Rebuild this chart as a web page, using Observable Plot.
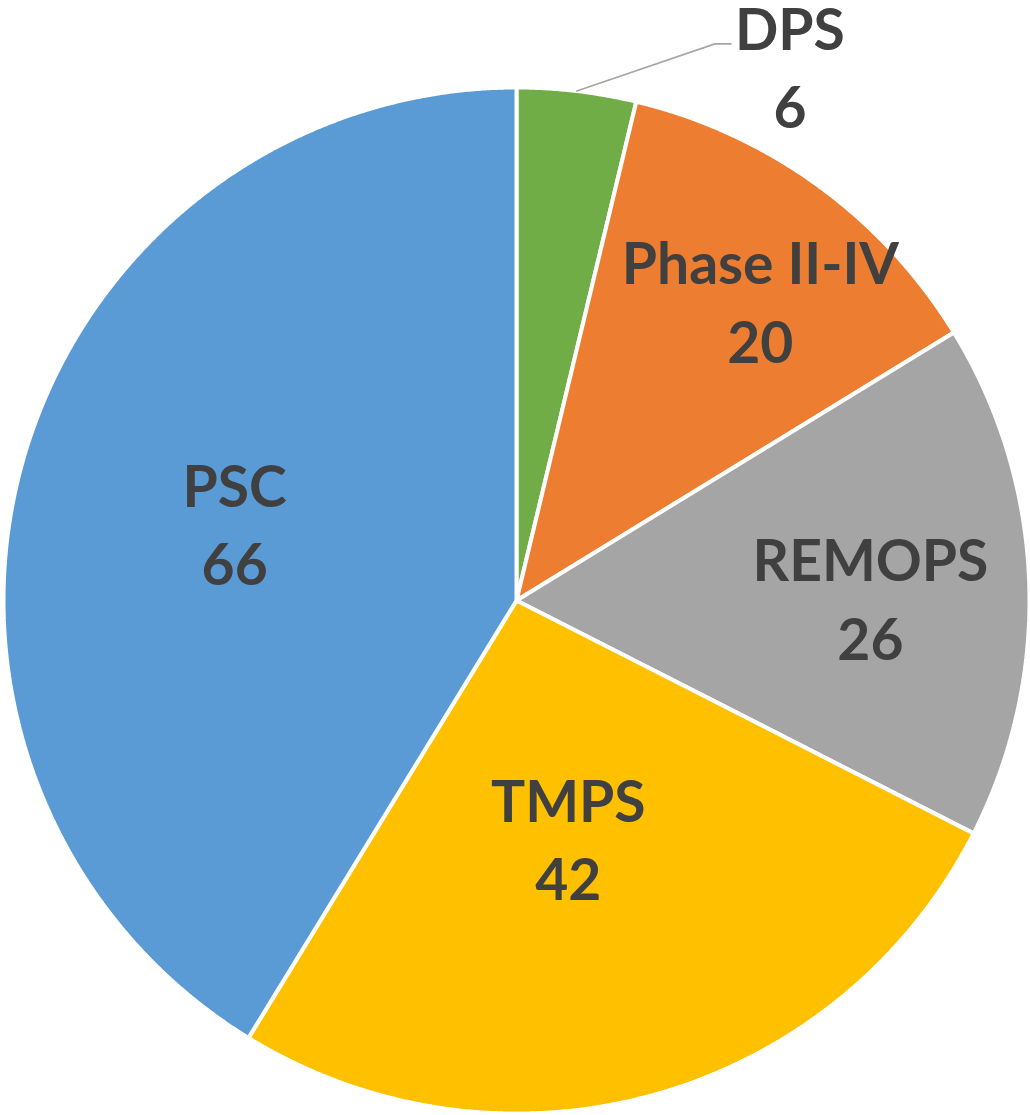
<!DOCTYPE html>
<html>
<head>
<meta charset="utf-8">
<script src="https://cdn.jsdelivr.net/npm/d3@7"></script>
<script src="https://cdn.jsdelivr.net/npm/@observablehq/plot@0.6"></script>
<style>
  html, body { margin: 0; padding: 0; background: #fff; }
  #chart svg { display: block; }
</style>
</head>
<body>
<div id="chart"></div>
<script>
// ---- data ----
const names = ["DPS", "Phase II-IV", "REMOPS", "TMPS", "PSC"];
const values = [6, 20, 26, 42, 66];
const colors = ["#70AD47", "#ED7D31", "#A5A5A5", "#FFC000", "#5B9BD5"];

// ---- layout (not data) ----
const W = 1030, H = 1115;
const CX = 516, CY = 600, R = 513;
// label anchor in polar form: angle (degrees from 12 o'clock, clockwise), radius as fraction of R
const labelPolar = [
  {angle: 27.0, r: 1.174},
  {angle: 38.9, r: 0.757},
  {angle: 89.2, r: 0.69},
  {angle: 167.6, r: 0.47},
  {angle: 285.8, r: 0.571}
];

const pie = d3.pie().sort(null).value(d => d)(values);

// slice polygons
const slicePts = [];
pie.forEach((p, i) => {
  slicePts.push({name: names[i], x: 0, y: 0});
  const n = Math.max(4, Math.ceil((p.endAngle - p.startAngle) / (Math.PI / 720)));
  for (let k = 0; k <= n; k++) {
    const a = p.startAngle + (p.endAngle - p.startAngle) * k / n;
    slicePts.push({name: names[i], x: Math.sin(a), y: Math.cos(a)});
  }
  slicePts.push({name: names[i], x: 0, y: 0});
});

// labels
const labels = pie.map((p, i) => {
  const a = labelPolar[i].angle * Math.PI / 180;
  const r = labelPolar[i].r;
  return {text: names[i] + "\n" + values[i], x: r * Math.sin(a), y: r * Math.cos(a)};
});

// leader line for the outside label (DPS)
const p0 = pie[0];
const mid0 = (p0.startAngle + p0.endAngle) / 2;
const lab0 = labels[0];
const leader = [
  {x: Math.sin(mid0) * 1.0, y: Math.cos(mid0) * 1.0},
  {x: lab0.x - 75 / R, y: lab0.y + 20 / R},
  {x: lab0.x - 59 / R, y: lab0.y + 20 / R}
];

const chart = Plot.plot({
  width: W,
  height: H,
  margin: 0,
  x: {domain: [-CX / R, (W - CX) / R], axis: null},
  y: {domain: [(CY - H) / R, CY / R], axis: null},
  color: {domain: names, range: colors},
  style: {background: "#fff", overflow: "visible"},
  marks: [
    Plot.line(slicePts, {
      x: "x", y: "y", z: "name", fill: "name",
      stroke: "#fff", strokeWidth: 4, strokeLinejoin: "miter", curve: "linear-closed"
    }),
    Plot.line(leader, {x: "x", y: "y", stroke: "#A6A6A6", strokeWidth: 1.6}),
    Plot.text(labels, {
      x: "x", y: "y", text: "text",
      fill: "#404040",
      fontSize: 57, fontWeight: "bold",
      fontFamily: "Lato, 'Open Sans', sans-serif",
      lineHeight: 1.38, textAnchor: "middle"
    })
  ]
});

document.getElementById("chart").appendChild(chart);
</script>
</body>
</html>
